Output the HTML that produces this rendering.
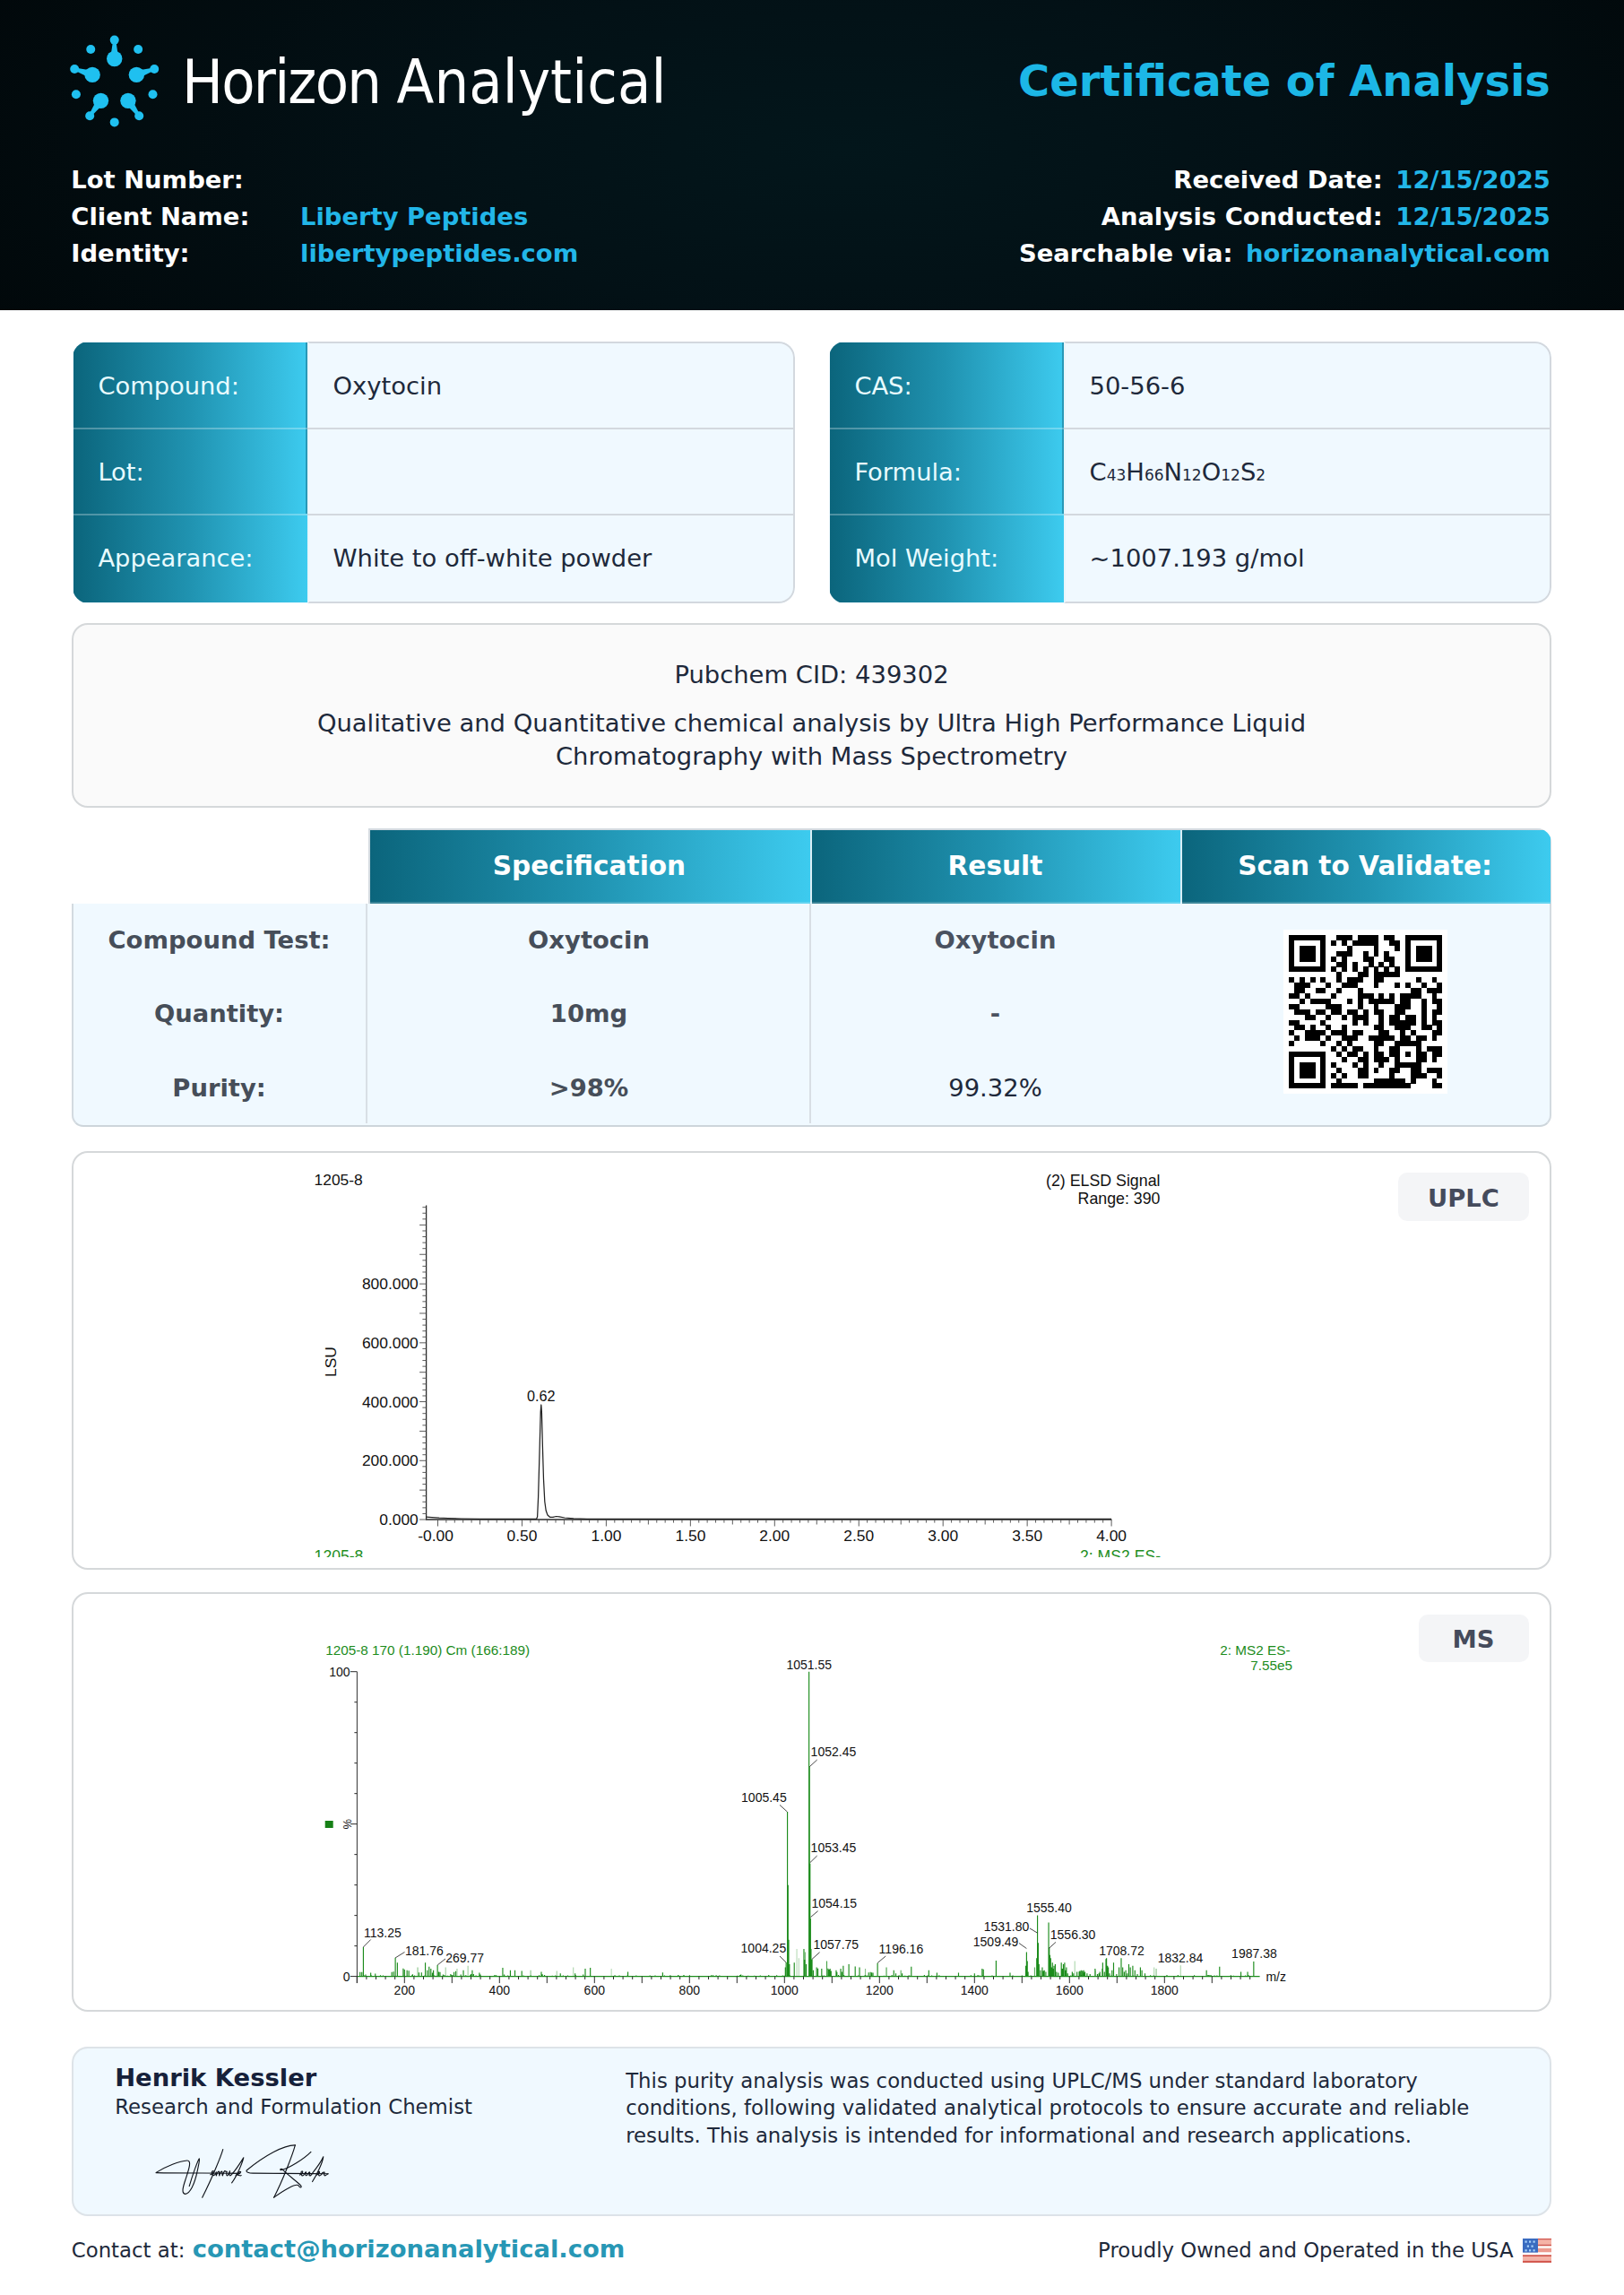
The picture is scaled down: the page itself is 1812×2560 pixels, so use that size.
<!DOCTYPE html>
<html lang="en"><head><meta charset="utf-8"><title>Certificate of Analysis - Horizon Analytical</title>
<style>
html,body{margin:0;padding:0}
body{width:1812px;height:2560px;position:relative;background:#fff;font-family:"DejaVu Sans","Liberation Sans",sans-serif;color:#1e293b;overflow:hidden}
div{box-sizing:border-box}
.abs{position:absolute}
.teal{background:linear-gradient(90deg,#0b657c 0%,#2093b1 50%,#3dcbef 100%)}
svg{position:absolute;overflow:visible}
svg text{font-family:"Liberation Sans","DejaVu Sans",sans-serif}
</style></head><body>
<div class="abs" style="left:0;top:0;width:1812px;height:346px;background:radial-gradient(ellipse 62% 130% at 52% 48%,#03161b 0%,#031116 42%,#010709 100%)"></div>
<svg style="left:0;top:0" width="260" height="200" viewBox="0 0 260 200"><path d="M123.10 65.50L126.20 44.60L129.20 44.60L132.30 65.50z" fill="#1fc0f0"/><circle cx="127.70" cy="65.50" r="8.7" fill="#1fc0f0"/><circle cx="127.70" cy="44.60" r="5" fill="#1fc0f0"/><circle cx="154.15" cy="54.99" r="5" fill="#1fc0f0"/><path d="M150.91 79.02L171.75 75.51L172.67 78.36L153.75 87.77z" fill="#1fc0f0"/><circle cx="152.33" cy="83.40" r="8.7" fill="#1fc0f0"/><circle cx="172.21" cy="76.94" r="5" fill="#1fc0f0"/><circle cx="170.50" cy="105.31" r="5" fill="#1fc0f0"/><path d="M146.65 109.65L156.42 128.38L153.99 130.14L139.20 115.06z" fill="#1fc0f0"/><circle cx="142.92" cy="112.35" r="8.7" fill="#1fc0f0"/><circle cx="155.21" cy="129.26" r="5" fill="#1fc0f0"/><circle cx="127.70" cy="136.40" r="5" fill="#1fc0f0"/><path d="M116.20 115.06L101.41 130.14L98.98 128.38L108.75 109.65z" fill="#1fc0f0"/><circle cx="112.48" cy="112.35" r="8.7" fill="#1fc0f0"/><circle cx="100.19" cy="129.26" r="5" fill="#1fc0f0"/><circle cx="84.90" cy="105.31" r="5" fill="#1fc0f0"/><path d="M101.65 87.77L82.73 78.36L83.65 75.51L104.49 79.02z" fill="#1fc0f0"/><circle cx="103.07" cy="83.40" r="8.7" fill="#1fc0f0"/><circle cx="83.19" cy="76.94" r="5" fill="#1fc0f0"/><circle cx="101.25" cy="54.99" r="5" fill="#1fc0f0"/></svg>
<div style="position:absolute;top:58.06px;font-size:67.9px;line-height:67.9px;font-weight:normal;color:#fff;white-space:nowrap;left:203.00px;font-family:&quot;DejaVu Sans Condensed&quot;,&quot;DejaVu Sans&quot;,sans-serif;font-stretch:condensed;letter-spacing:-1.75px;">Horizon</div>
<div style="position:absolute;top:58.06px;font-size:67.9px;line-height:67.9px;font-weight:normal;color:#fff;white-space:nowrap;left:442.60px;font-family:&quot;DejaVu Sans Condensed&quot;,&quot;DejaVu Sans&quot;,sans-serif;font-stretch:condensed;letter-spacing:0.1px;">Analytical</div>
<div style="position:absolute;top:66.58px;font-size:47.9px;line-height:47.9px;font-weight:bold;color:#1cb7e6;white-space:nowrap;right:82.20px;text-align:right;">Certificate of Analysis</div>
<div style="position:absolute;top:186.72px;font-size:27.4px;line-height:27.4px;font-weight:bold;color:#fff;white-space:nowrap;left:79.30px;">Lot Number:</div>
<div style="position:absolute;top:227.67px;font-size:27.4px;line-height:27.4px;font-weight:bold;color:#fff;white-space:nowrap;left:79.30px;">Client Name:</div>
<div style="position:absolute;top:227.67px;font-size:27.4px;line-height:27.4px;font-weight:bold;color:#22b6e8;white-space:nowrap;left:335.00px;">Liberty Peptides</div>
<div style="position:absolute;top:268.62px;font-size:27.4px;line-height:27.4px;font-weight:bold;color:#fff;white-space:nowrap;left:79.30px;">Identity:</div>
<div style="position:absolute;top:268.62px;font-size:27.4px;line-height:27.4px;font-weight:bold;color:#22b6e8;white-space:nowrap;left:335.00px;">libertypeptides.com</div>
<div style="position:absolute;top:186.72px;font-size:27.4px;line-height:27.4px;font-weight:bold;color:#22b6e8;white-space:nowrap;right:82.20px;text-align:right;"><span style="color:#fff">Received Date:</span><span style="display:inline-block;width:14.7px"></span>12/15/2025</div>
<div style="position:absolute;top:227.67px;font-size:27.4px;line-height:27.4px;font-weight:bold;color:#22b6e8;white-space:nowrap;right:82.20px;text-align:right;"><span style="color:#fff">Analysis Conducted:</span><span style="display:inline-block;width:14.7px"></span>12/15/2025</div>
<div style="position:absolute;top:268.62px;font-size:27.4px;line-height:27.4px;font-weight:bold;color:#22b6e8;white-space:nowrap;right:82.20px;text-align:right;"><span style="color:#fff">Searchable via:</span><span style="display:inline-block;width:14.7px"></span>horizonanalytical.com</div>
<div class="abs" style="left:81px;top:381px;width:806px;height:291.6px;border-radius:18px;overflow:hidden;background:#f0f9ff"><div class="abs teal" style="left:1px;top:1px;width:260.6px;height:289.6px"></div><div class="abs" style="left:261.6px;top:0;width:544.4px;height:291.6px;border:2px solid #d3d8de;border-left:2px solid #e9f6fb;border-radius:0 18px 18px 0"></div><div class="abs" style="left:259.8px;top:1px;width:1.8px;height:191px;background:rgba(8,70,95,.38)"></div><div class="abs" style="left:1px;top:96px;width:260.6px;height:2px;background:rgba(255,255,255,.28)"></div><div class="abs" style="left:262px;top:96px;width:542px;height:2px;background:#d3d8de"></div><div class="abs" style="left:1px;top:192px;width:260.6px;height:2px;background:rgba(255,255,255,.28)"></div><div class="abs" style="left:262px;top:192px;width:542px;height:2px;background:#d3d8de"></div></div><div style="position:absolute;top:417.10px;font-size:27.3px;line-height:27.3px;font-weight:normal;color:#e8fbff;white-space:nowrap;left:109.40px;">Compound:</div><div style="position:absolute;top:417.02px;font-size:27.4px;line-height:27.4px;font-weight:normal;color:#1e293b;white-space:nowrap;left:371.50px;">Oxytocin</div><div style="position:absolute;top:513.10px;font-size:27.3px;line-height:27.3px;font-weight:normal;color:#e8fbff;white-space:nowrap;left:109.40px;">Lot:</div><div style="position:absolute;top:609.10px;font-size:27.3px;line-height:27.3px;font-weight:normal;color:#e8fbff;white-space:nowrap;left:109.40px;">Appearance:</div><div style="position:absolute;top:609.02px;font-size:27.4px;line-height:27.4px;font-weight:normal;color:#1e293b;white-space:nowrap;left:371.50px;">White to off-white powder</div>
<div class="abs" style="left:925px;top:381px;width:806px;height:291.6px;border-radius:18px;overflow:hidden;background:#f0f9ff"><div class="abs teal" style="left:1px;top:1px;width:260.6px;height:289.6px"></div><div class="abs" style="left:261.6px;top:0;width:544.4px;height:291.6px;border:2px solid #d3d8de;border-left:2px solid #e9f6fb;border-radius:0 18px 18px 0"></div><div class="abs" style="left:259.8px;top:1px;width:1.8px;height:191px;background:rgba(8,70,95,.38)"></div><div class="abs" style="left:1px;top:96px;width:260.6px;height:2px;background:rgba(255,255,255,.28)"></div><div class="abs" style="left:262px;top:96px;width:542px;height:2px;background:#d3d8de"></div><div class="abs" style="left:1px;top:192px;width:260.6px;height:2px;background:rgba(255,255,255,.28)"></div><div class="abs" style="left:262px;top:192px;width:542px;height:2px;background:#d3d8de"></div></div><div style="position:absolute;top:417.10px;font-size:27.3px;line-height:27.3px;font-weight:normal;color:#e8fbff;white-space:nowrap;left:953.40px;">CAS:</div><div style="position:absolute;top:417.02px;font-size:27.4px;line-height:27.4px;font-weight:normal;color:#1e293b;white-space:nowrap;left:1215.50px;">50-56-6</div><div style="position:absolute;top:513.10px;font-size:27.3px;line-height:27.3px;font-weight:normal;color:#e8fbff;white-space:nowrap;left:953.40px;">Formula:</div><div style="position:absolute;top:513.02px;font-size:27.4px;line-height:27.4px;font-weight:normal;color:#1e293b;white-space:nowrap;left:1215.50px;">C<span style="font-size:17px">43</span>H<span style="font-size:17px">66</span>N<span style="font-size:17px">12</span>O<span style="font-size:17px">12</span>S<span style="font-size:17px">2</span></div><div style="position:absolute;top:609.10px;font-size:27.3px;line-height:27.3px;font-weight:normal;color:#e8fbff;white-space:nowrap;left:953.40px;">Mol Weight:</div><div style="position:absolute;top:609.02px;font-size:27.4px;line-height:27.4px;font-weight:normal;color:#1e293b;white-space:nowrap;left:1215.50px;">~1007.193 g/mol</div>
<div class="abs" style="left:80px;top:695.4px;width:1651px;height:205.6px;border:2.3px solid #d5d8da;border-radius:18px;background:#fafafa"></div>
<div style="position:absolute;top:738.82px;font-size:27.4px;line-height:27.4px;font-weight:normal;color:#1e293b;white-space:nowrap;left:305.50px;width:1200px;text-align:center;">Pubchem CID: 439302</div>
<div style="position:absolute;top:793.32px;font-size:27.4px;line-height:27.4px;font-weight:normal;color:#1e293b;white-space:nowrap;left:155.50px;width:1500px;text-align:center;">Qualitative and Quantitative chemical analysis by Ultra High Performance Liquid</div>
<div style="position:absolute;top:829.82px;font-size:27.4px;line-height:27.4px;font-weight:normal;color:#1e293b;white-space:nowrap;left:305.50px;width:1200px;text-align:center;">Chromatography with Mass Spectrometry</div>
<div class="abs" style="left:80px;top:1008px;width:1651px;height:248.6px;background:#f0f9ff;border-radius:0 0 13px 13px;border:2px solid #d3dae0;border-top:none;border-bottom:2.5px solid #cdd5db"></div>
<div class="abs" style="left:410.8px;top:923.6px;width:1320.2px;height:84.8px;border-radius:0 16px 0 0;overflow:hidden;background:#d9eef5"><div class="abs" style="left:0;top:0;width:1321px;height:2.4px;background:#d3dae0"></div><div class="abs" style="left:0;top:0;width:2px;height:85px;background:#d3dae0"></div><div class="abs" style="right:0;top:0;width:2px;height:85px;background:#d3dae0"></div><div class="abs teal" style="left:2px;top:2.4px;width:491px;height:82.4px"></div><div class="abs teal" style="left:495.6px;top:2.4px;width:410.2px;height:82.4px"></div><div class="abs teal" style="left:908.4px;top:2.4px;width:410.6px;height:82.4px"></div><div class="abs" style="left:2px;bottom:0;width:1317px;height:2px;background:rgba(255,255,255,.2)"></div></div>
<div class="abs" style="left:408px;top:1008px;width:2px;height:245px;background:#d8dfe5"></div>
<div class="abs" style="left:903px;top:1008px;width:2px;height:245px;background:#d8dfe5"></div>
<div style="position:absolute;top:951.66px;font-size:29.6px;line-height:29.6px;font-weight:bold;color:#fff;white-space:nowrap;left:417.50px;width:480px;text-align:center;">Specification</div>
<div style="position:absolute;top:951.66px;font-size:29.6px;line-height:29.6px;font-weight:bold;color:#fff;white-space:nowrap;left:870.50px;width:480px;text-align:center;">Result</div>
<div style="position:absolute;top:951.66px;font-size:29.6px;line-height:29.6px;font-weight:bold;color:#fff;white-space:nowrap;left:1283.00px;width:480px;text-align:center;">Scan to Validate:</div>
<div style="position:absolute;top:1035.32px;font-size:27.4px;line-height:27.4px;font-weight:bold;color:#464e59;white-space:nowrap;left:84.50px;width:320px;text-align:center;">Compound Test:</div>
<div style="position:absolute;top:1035.32px;font-size:27.4px;line-height:27.4px;font-weight:bold;color:#464e59;white-space:nowrap;left:417.00px;width:480px;text-align:center;">Oxytocin</div>
<div style="position:absolute;top:1035.32px;font-size:27.4px;line-height:27.4px;font-weight:bold;color:#4a5260;white-space:nowrap;left:910.50px;width:400px;text-align:center;">Oxytocin</div>
<div style="position:absolute;top:1117.42px;font-size:27.4px;line-height:27.4px;font-weight:bold;color:#464e59;white-space:nowrap;left:84.50px;width:320px;text-align:center;">Quantity:</div>
<div style="position:absolute;top:1117.42px;font-size:27.4px;line-height:27.4px;font-weight:bold;color:#464e59;white-space:nowrap;left:417.00px;width:480px;text-align:center;">10mg</div>
<div style="position:absolute;top:1117.42px;font-size:27.4px;line-height:27.4px;font-weight:bold;color:#4a5260;white-space:nowrap;left:910.50px;width:400px;text-align:center;">-</div>
<div style="position:absolute;top:1199.52px;font-size:27.4px;line-height:27.4px;font-weight:bold;color:#464e59;white-space:nowrap;left:84.50px;width:320px;text-align:center;">Purity:</div>
<div style="position:absolute;top:1199.52px;font-size:27.4px;line-height:27.4px;font-weight:bold;color:#464e59;white-space:nowrap;left:417.00px;width:480px;text-align:center;">&gt;98%</div>
<div style="position:absolute;top:1199.52px;font-size:27.4px;line-height:27.4px;font-weight:normal;color:#1e293b;white-space:nowrap;left:910.50px;width:400px;text-align:center;">99.32%</div>
<div class="abs" style="left:1432.4px;top:1037.4px;width:182.3px;height:182.3px;background:#fff"></div>
<svg style="left:1438.3px;top:1043.3px" width="172" height="172" viewBox="0 0 172 172" shape-rendering="crispEdges"><path d="M0.00 0.00h41.37v5.96h-41.37zM53.19 0.00h17.73v5.96h-17.73zM76.83 0.00h23.64v5.96h-23.64zM106.38 0.00h11.82v5.96h-11.82zM130.02 0.00h41.37v5.96h-41.37zM0.00 5.91h5.91v5.96h-5.91zM35.46 5.91h5.91v5.96h-5.91zM47.28 5.91h5.91v5.96h-5.91zM59.10 5.91h5.91v5.96h-5.91zM70.92 5.91h29.55v5.96h-29.55zM112.29 5.91h11.82v5.96h-11.82zM130.02 5.91h5.91v5.96h-5.91zM165.48 5.91h5.91v5.96h-5.91zM0.00 11.82h5.91v5.96h-5.91zM11.82 11.82h17.73v5.96h-17.73zM35.46 11.82h5.91v5.96h-5.91zM65.01 11.82h5.91v5.96h-5.91zM94.56 11.82h5.91v5.96h-5.91zM118.20 11.82h5.91v5.96h-5.91zM130.02 11.82h5.91v5.96h-5.91zM141.84 11.82h17.73v5.96h-17.73zM165.48 11.82h5.91v5.96h-5.91zM0.00 17.73h5.91v5.96h-5.91zM11.82 17.73h17.73v5.96h-17.73zM35.46 17.73h5.91v5.96h-5.91zM53.19 17.73h17.73v5.96h-17.73zM82.74 17.73h5.91v5.96h-5.91zM94.56 17.73h5.91v5.96h-5.91zM106.38 17.73h5.91v5.96h-5.91zM130.02 17.73h5.91v5.96h-5.91zM141.84 17.73h17.73v5.96h-17.73zM165.48 17.73h5.91v5.96h-5.91zM0.00 23.64h5.91v5.96h-5.91zM11.82 23.64h17.73v5.96h-17.73zM35.46 23.64h5.91v5.96h-5.91zM47.28 23.64h5.91v5.96h-5.91zM59.10 23.64h5.91v5.96h-5.91zM82.74 23.64h11.82v5.96h-11.82zM106.38 23.64h11.82v5.96h-11.82zM130.02 23.64h5.91v5.96h-5.91zM141.84 23.64h17.73v5.96h-17.73zM165.48 23.64h5.91v5.96h-5.91zM0.00 29.55h5.91v5.96h-5.91zM35.46 29.55h5.91v5.96h-5.91zM53.19 29.55h11.82v5.96h-11.82zM70.92 29.55h5.91v5.96h-5.91zM88.65 29.55h5.91v5.96h-5.91zM100.47 29.55h5.91v5.96h-5.91zM112.29 29.55h5.91v5.96h-5.91zM130.02 29.55h5.91v5.96h-5.91zM165.48 29.55h5.91v5.96h-5.91zM0.00 35.46h41.37v5.96h-41.37zM47.28 35.46h5.91v5.96h-5.91zM59.10 35.46h5.91v5.96h-5.91zM70.92 35.46h5.91v5.96h-5.91zM82.74 35.46h5.91v5.96h-5.91zM94.56 35.46h5.91v5.96h-5.91zM106.38 35.46h5.91v5.96h-5.91zM118.20 35.46h5.91v5.96h-5.91zM130.02 35.46h41.37v5.96h-41.37zM53.19 41.37h5.91v5.96h-5.91zM76.83 41.37h11.82v5.96h-11.82zM94.56 41.37h29.55v5.96h-29.55zM0.00 47.28h5.91v5.96h-5.91zM11.82 47.28h5.91v5.96h-5.91zM23.64 47.28h5.91v5.96h-5.91zM35.46 47.28h5.91v5.96h-5.91zM53.19 47.28h5.91v5.96h-5.91zM65.01 47.28h17.73v5.96h-17.73zM94.56 47.28h11.82v5.96h-11.82zM141.84 47.28h5.91v5.96h-5.91zM159.57 47.28h5.91v5.96h-5.91zM5.91 53.19h17.73v5.96h-17.73zM41.37 53.19h5.91v5.96h-5.91zM59.10 53.19h17.73v5.96h-17.73zM94.56 53.19h5.91v5.96h-5.91zM118.20 53.19h5.91v5.96h-5.91zM130.02 53.19h5.91v5.96h-5.91zM147.75 53.19h5.91v5.96h-5.91zM165.48 53.19h5.91v5.96h-5.91zM5.91 59.10h11.82v5.96h-11.82zM29.55 59.10h11.82v5.96h-11.82zM53.19 59.10h5.91v5.96h-5.91zM76.83 59.10h5.91v5.96h-5.91zM135.93 59.10h11.82v5.96h-11.82zM153.66 59.10h17.73v5.96h-17.73zM0.00 65.01h11.82v5.96h-11.82zM17.73 65.01h5.91v5.96h-5.91zM47.28 65.01h5.91v5.96h-5.91zM76.83 65.01h17.73v5.96h-17.73zM100.47 65.01h5.91v5.96h-5.91zM112.29 65.01h5.91v5.96h-5.91zM124.11 65.01h23.64v5.96h-23.64zM159.57 65.01h5.91v5.96h-5.91zM11.82 70.92h5.91v5.96h-5.91zM23.64 70.92h23.64v5.96h-23.64zM65.01 70.92h5.91v5.96h-5.91zM76.83 70.92h5.91v5.96h-5.91zM88.65 70.92h29.55v5.96h-29.55zM124.11 70.92h11.82v5.96h-11.82zM147.75 70.92h5.91v5.96h-5.91zM159.57 70.92h11.82v5.96h-11.82zM0.00 76.83h11.82v5.96h-11.82zM41.37 76.83h17.73v5.96h-17.73zM76.83 76.83h5.91v5.96h-5.91zM94.56 76.83h5.91v5.96h-5.91zM118.20 76.83h17.73v5.96h-17.73zM147.75 76.83h5.91v5.96h-5.91zM165.48 76.83h5.91v5.96h-5.91zM5.91 82.74h17.73v5.96h-17.73zM29.55 82.74h11.82v5.96h-11.82zM47.28 82.74h11.82v5.96h-11.82zM65.01 82.74h11.82v5.96h-11.82zM82.74 82.74h5.91v5.96h-5.91zM94.56 82.74h11.82v5.96h-11.82zM118.20 82.74h11.82v5.96h-11.82zM147.75 82.74h5.91v5.96h-5.91zM159.57 82.74h11.82v5.96h-11.82zM17.73 88.65h11.82v5.96h-11.82zM41.37 88.65h5.91v5.96h-5.91zM59.10 88.65h5.91v5.96h-5.91zM70.92 88.65h17.73v5.96h-17.73zM100.47 88.65h5.91v5.96h-5.91zM112.29 88.65h11.82v5.96h-11.82zM130.02 88.65h11.82v5.96h-11.82zM147.75 88.65h5.91v5.96h-5.91zM159.57 88.65h5.91v5.96h-5.91zM0.00 94.56h11.82v5.96h-11.82zM35.46 94.56h5.91v5.96h-5.91zM70.92 94.56h5.91v5.96h-5.91zM82.74 94.56h5.91v5.96h-5.91zM100.47 94.56h5.91v5.96h-5.91zM112.29 94.56h29.55v5.96h-29.55zM147.75 94.56h5.91v5.96h-5.91zM159.57 94.56h11.82v5.96h-11.82zM5.91 100.47h11.82v5.96h-11.82zM23.64 100.47h5.91v5.96h-5.91zM41.37 100.47h5.91v5.96h-5.91zM59.10 100.47h5.91v5.96h-5.91zM94.56 100.47h11.82v5.96h-11.82zM118.20 100.47h17.73v5.96h-17.73zM147.75 100.47h11.82v5.96h-11.82zM165.48 100.47h5.91v5.96h-5.91zM0.00 106.38h5.91v5.96h-5.91zM17.73 106.38h23.64v5.96h-23.64zM47.28 106.38h17.73v5.96h-17.73zM70.92 106.38h11.82v5.96h-11.82zM100.47 106.38h11.82v5.96h-11.82zM124.11 106.38h5.91v5.96h-5.91zM135.93 106.38h5.91v5.96h-5.91zM159.57 106.38h11.82v5.96h-11.82zM5.91 112.29h5.91v5.96h-5.91zM17.73 112.29h17.73v5.96h-17.73zM41.37 112.29h5.91v5.96h-5.91zM59.10 112.29h17.73v5.96h-17.73zM88.65 112.29h29.55v5.96h-29.55zM124.11 112.29h11.82v5.96h-11.82zM141.84 112.29h11.82v5.96h-11.82zM159.57 112.29h5.91v5.96h-5.91zM0.00 118.20h5.91v5.96h-5.91zM35.46 118.20h5.91v5.96h-5.91zM53.19 118.20h5.91v5.96h-5.91zM65.01 118.20h5.91v5.96h-5.91zM94.56 118.20h11.82v5.96h-11.82zM118.20 118.20h29.55v5.96h-29.55zM47.28 124.11h5.91v5.96h-5.91zM59.10 124.11h5.91v5.96h-5.91zM70.92 124.11h11.82v5.96h-11.82zM94.56 124.11h5.91v5.96h-5.91zM112.29 124.11h11.82v5.96h-11.82zM141.84 124.11h5.91v5.96h-5.91zM153.66 124.11h17.73v5.96h-17.73zM0.00 130.02h41.37v5.96h-41.37zM53.19 130.02h5.91v5.96h-5.91zM65.01 130.02h11.82v5.96h-11.82zM82.74 130.02h5.91v5.96h-5.91zM94.56 130.02h11.82v5.96h-11.82zM112.29 130.02h11.82v5.96h-11.82zM130.02 130.02h5.91v5.96h-5.91zM141.84 130.02h11.82v5.96h-11.82zM159.57 130.02h11.82v5.96h-11.82zM0.00 135.93h5.91v5.96h-5.91zM35.46 135.93h5.91v5.96h-5.91zM59.10 135.93h5.91v5.96h-5.91zM76.83 135.93h11.82v5.96h-11.82zM94.56 135.93h17.73v5.96h-17.73zM118.20 135.93h5.91v5.96h-5.91zM141.84 135.93h11.82v5.96h-11.82zM159.57 135.93h5.91v5.96h-5.91zM0.00 141.84h5.91v5.96h-5.91zM11.82 141.84h17.73v5.96h-17.73zM35.46 141.84h5.91v5.96h-5.91zM47.28 141.84h5.91v5.96h-5.91zM70.92 141.84h5.91v5.96h-5.91zM82.74 141.84h5.91v5.96h-5.91zM100.47 141.84h5.91v5.96h-5.91zM118.20 141.84h29.55v5.96h-29.55zM0.00 147.75h5.91v5.96h-5.91zM11.82 147.75h17.73v5.96h-17.73zM35.46 147.75h5.91v5.96h-5.91zM53.19 147.75h5.91v5.96h-5.91zM76.83 147.75h11.82v5.96h-11.82zM94.56 147.75h5.91v5.96h-5.91zM112.29 147.75h11.82v5.96h-11.82zM135.93 147.75h11.82v5.96h-11.82zM153.66 147.75h17.73v5.96h-17.73zM0.00 153.66h5.91v5.96h-5.91zM11.82 153.66h17.73v5.96h-17.73zM35.46 153.66h5.91v5.96h-5.91zM47.28 153.66h5.91v5.96h-5.91zM59.10 153.66h5.91v5.96h-5.91zM76.83 153.66h11.82v5.96h-11.82zM112.29 153.66h5.91v5.96h-5.91zM135.93 153.66h17.73v5.96h-17.73zM165.48 153.66h5.91v5.96h-5.91zM0.00 159.57h5.91v5.96h-5.91zM35.46 159.57h5.91v5.96h-5.91zM53.19 159.57h5.91v5.96h-5.91zM94.56 159.57h35.46v5.96h-35.46zM135.93 159.57h5.91v5.96h-5.91zM159.57 159.57h5.91v5.96h-5.91zM0.00 165.48h41.37v5.96h-41.37zM47.28 165.48h29.55v5.96h-29.55zM82.74 165.48h53.19v5.96h-53.19zM159.57 165.48h11.82v5.96h-11.82z" fill="#000"/></svg>
<div class="abs" style="left:80px;top:1284px;width:1651px;height:467px;border:2.3px solid #d5d8da;border-radius:18px;background:#fff"></div>
<div class="abs" style="left:1559.7px;top:1308.3px;width:146.6px;height:53.6px;border-radius:10px;background:#f4f5f7"></div>
<div class="abs" style="left:1559.7px;top:1322.7px;width:146.6px;height:27.4px;line-height:27.4px;text-align:center;font-size:27.4px;font-weight:bold;color:#454b5c">UPLC</div>
<svg style="left:0;top:0" width="1812" height="1760" viewBox="0 0 1812 1760"><path d="M475.6 1344.5V1695.0H1240.3" fill="none" stroke="#2a2a2a" stroke-width="1.3"/><path d="M468.1 1695.00H475.6M471.4 1688.43H475.6M471.4 1681.86H475.6M471.4 1675.28H475.6M471.4 1668.71H475.6M468.1 1662.14H475.6M471.4 1655.57H475.6M471.4 1649.00H475.6M471.4 1642.42H475.6M471.4 1635.85H475.6M468.1 1629.28H475.6M471.4 1622.71H475.6M471.4 1616.14H475.6M471.4 1609.56H475.6M471.4 1602.99H475.6M468.1 1596.42H475.6M471.4 1589.85H475.6M471.4 1583.28H475.6M471.4 1576.70H475.6M471.4 1570.13H475.6M468.1 1563.56H475.6M471.4 1556.99H475.6M471.4 1550.42H475.6M471.4 1543.84H475.6M471.4 1537.27H475.6M468.1 1530.70H475.6M471.4 1524.13H475.6M471.4 1517.56H475.6M471.4 1510.98H475.6M471.4 1504.41H475.6M468.1 1497.84H475.6M471.4 1491.27H475.6M471.4 1484.70H475.6M471.4 1478.12H475.6M471.4 1471.55H475.6M468.1 1464.98H475.6M471.4 1458.41H475.6M471.4 1451.84H475.6M471.4 1445.26H475.6M471.4 1438.69H475.6M468.1 1432.12H475.6M471.4 1425.55H475.6M471.4 1418.98H475.6M471.4 1412.40H475.6M471.4 1405.83H475.6M468.1 1399.26H475.6M471.4 1392.69H475.6M471.4 1386.12H475.6M471.4 1379.54H475.6M471.4 1372.97H475.6M468.1 1366.40H475.6M471.4 1359.83H475.6M471.4 1353.26H475.6M471.4 1346.68H475.6" stroke="#4a4a4a" stroke-width="0.9" fill="none"/><path d="M488.50 1695.0v7.5M497.89 1695.0v3.6M507.29 1695.0v3.6M516.69 1695.0v3.6M526.08 1695.0v3.6M535.48 1695.0v5.5M544.87 1695.0v3.6M554.26 1695.0v3.6M563.66 1695.0v3.6M573.06 1695.0v3.6M582.45 1695.0v7.5M591.85 1695.0v3.6M601.24 1695.0v3.6M610.63 1695.0v3.6M620.03 1695.0v3.6M629.42 1695.0v5.5M638.82 1695.0v3.6M648.22 1695.0v3.6M657.61 1695.0v3.6M667.00 1695.0v3.6M676.40 1695.0v7.5M685.80 1695.0v3.6M695.19 1695.0v3.6M704.59 1695.0v3.6M713.98 1695.0v3.6M723.38 1695.0v5.5M732.77 1695.0v3.6M742.16 1695.0v3.6M751.56 1695.0v3.6M760.96 1695.0v3.6M770.35 1695.0v7.5M779.75 1695.0v3.6M789.14 1695.0v3.6M798.54 1695.0v3.6M807.93 1695.0v3.6M817.33 1695.0v5.5M826.72 1695.0v3.6M836.12 1695.0v3.6M845.51 1695.0v3.6M854.90 1695.0v3.6M864.30 1695.0v7.5M873.70 1695.0v3.6M883.09 1695.0v3.6M892.49 1695.0v3.6M901.88 1695.0v3.6M911.28 1695.0v5.5M920.67 1695.0v3.6M930.07 1695.0v3.6M939.46 1695.0v3.6M948.86 1695.0v3.6M958.25 1695.0v7.5M967.64 1695.0v3.6M977.04 1695.0v3.6M986.44 1695.0v3.6M995.83 1695.0v3.6M1005.23 1695.0v5.5M1014.62 1695.0v3.6M1024.01 1695.0v3.6M1033.41 1695.0v3.6M1042.81 1695.0v3.6M1052.20 1695.0v7.5M1061.60 1695.0v3.6M1070.99 1695.0v3.6M1080.39 1695.0v3.6M1089.78 1695.0v3.6M1099.18 1695.0v5.5M1108.57 1695.0v3.6M1117.97 1695.0v3.6M1127.36 1695.0v3.6M1136.76 1695.0v3.6M1146.15 1695.0v7.5M1155.55 1695.0v3.6M1164.94 1695.0v3.6M1174.34 1695.0v3.6M1183.73 1695.0v3.6M1193.12 1695.0v5.5M1202.52 1695.0v3.6M1211.91 1695.0v3.6M1221.31 1695.0v3.6M1230.70 1695.0v3.6M1240.10 1695.0v7.5" stroke="#4a4a4a" stroke-width="0.9" fill="none"/><polyline points="475.6,1692.2 482,1692.6 490,1693.1 500,1693.5 515,1694.0 535,1694.3 560,1694.4 598.5,1694.4 599.6,1692 600.6,1670 602,1620 603.2,1575 603.8,1567 604.4,1575 605.3,1610 606.5,1650 607.8,1675 609.2,1685 611,1690 613.5,1692.3 617,1692.4 620.5,1691.5 624,1691.9 630,1693 640,1693.8 655,1694.3 700,1694.4 1240,1694.4" fill="none" stroke="#222" stroke-width="1.25" stroke-linejoin="round"/><g font-size="17.4" fill="#111"><text x="350.6" y="1322.2">1205-8</text><text x="1294.5" y="1322.5" text-anchor="end" font-size="17.8">(2) ELSD Signal</text><text x="1294.5" y="1342.5" text-anchor="end" font-size="17.8">Range: 390</text><text x="466.8" y="1438.2" text-anchor="end">800.000</text><text x="466.8" y="1503.9" text-anchor="end">600.000</text><text x="466.8" y="1569.7" text-anchor="end">400.000</text><text x="466.8" y="1635.4" text-anchor="end">200.000</text><text x="466.8" y="1701.1" text-anchor="end">0.000</text><text x="486.0" y="1718.6" text-anchor="middle">-0.00</text><text x="582.5" y="1718.6" text-anchor="middle">0.50</text><text x="676.4" y="1718.6" text-anchor="middle">1.00</text><text x="770.4" y="1718.6" text-anchor="middle">1.50</text><text x="864.3" y="1718.6" text-anchor="middle">2.00</text><text x="958.2" y="1718.6" text-anchor="middle">2.50</text><text x="1052.2" y="1718.6" text-anchor="middle">3.00</text><text x="1146.2" y="1718.6" text-anchor="middle">3.50</text><text x="1240.1" y="1718.6" text-anchor="middle">4.00</text><text x="603.8" y="1563.2" text-anchor="middle" font-size="16.2">0.62</text><text transform="translate(374.5 1519) rotate(-90)" text-anchor="middle">LSU</text></g></svg>
<div class="abs" style="left:300px;top:1724px;width:1100px;height:13px;overflow:hidden"><svg style="left:0;top:0" width="1100" height="40" viewBox="300 1724 1100 40"><g font-size="17.6" fill="#1f8f1f"><text x="350.6" y="1741.6">1205-8</text><text x="1295" y="1741.6" text-anchor="end">2: MS2 ES-</text></g></svg></div>
<div class="abs" style="left:80px;top:1776.2px;width:1651px;height:467.4px;border:2.3px solid #d5d8da;border-radius:18px;background:#fff"></div>
<div class="abs" style="left:1582.5px;top:1800.8px;width:123.1px;height:53.6px;border-radius:10px;background:#f4f5f7"></div>
<div class="abs" style="left:1582.5px;top:1814.9px;width:123.1px;height:27.4px;line-height:27.4px;text-align:center;font-size:27.4px;font-weight:bold;color:#454b5c">MS</div>
<svg style="left:0;top:0" width="1812" height="2250" viewBox="0 0 1812 2250"><path d="M398.4 2204.6H1405.6" stroke="#1c8c1c" stroke-width="1.3" fill="none"/><path d="M405.43 2204.6V2171.97M401.75 2204.6V2199.84M403.73 2204.6V2199.84M407.98 2204.6V2202.56M413.65 2204.6V2200.52M418.74 2204.6V2201.54M437.16 2204.6V2199.84M439.14 2204.6V2199.16M441.12 2204.6V2183.87M443.39 2204.6V2189.30M449.90 2204.6V2195.76M451.32 2204.6V2197.12M454.15 2204.6V2197.80M456.13 2204.6V2198.14M460.38 2204.6V2202.22M467.46 2204.6V2200.18M470.30 2204.6V2200.18M474.55 2204.6V2189.30M476.81 2204.6V2197.80M478.79 2204.6V2193.72M480.78 2204.6V2196.10M482.48 2204.6V2200.52M483.61 2204.6V2197.80M488.14 2204.6V2192.02M489.56 2204.6V2199.50M490.97 2204.6V2199.84M494.37 2204.6V2202.56M502.87 2204.6V2201.88M506.55 2204.6V2199.84M508.54 2204.6V2198.82M514.20 2204.6V2202.56M517.03 2204.6V2197.80M525.53 2204.6V2201.88M526.95 2204.6V2197.80M528.36 2204.6V2201.88M534.88 2204.6V2200.52M536.01 2204.6V2202.56M551.87 2204.6V2202.90M560.94 2204.6V2195.08M562.64 2204.6V2202.56M569.44 2204.6V2197.80M574.53 2204.6V2197.80M582.18 2204.6V2198.48M603.99 2204.6V2199.50M605.13 2204.6V2202.22M625.24 2204.6V2201.20M641.67 2204.6V2201.20M650.73 2204.6V2202.56M653.00 2204.6V2196.10M658.66 2204.6V2195.08M700.58 2204.6V2199.50M739.39 2204.6V2200.18M747.89 2204.6V2203.24M769.41 2204.6V2203.24M826.74 2204.6V2202.56M876.31 2204.6V2194.40M877.16 2204.6V2188.96M878.57 2204.6V2021.05M879.28 2204.6V2102.63M879.99 2204.6V2163.81M880.84 2204.6V2191.00M886.22 2204.6V2189.30M896.98 2204.6V2174.01M897.83 2204.6V2185.91M899.53 2204.6V2191.00M902.65 2204.6V1864.70M903.22 2204.6V1970.07M903.78 2204.6V2078.84M904.35 2204.6V2140.02M904.92 2204.6V2174.01M906.05 2204.6V2185.57M907.46 2204.6V2197.80M911.15 2204.6V2194.40M912.56 2204.6V2195.76M916.81 2204.6V2196.10M923.89 2204.6V2195.76M925.03 2204.6V2197.12M926.16 2204.6V2196.10M927.29 2204.6V2198.48M932.96 2204.6V2197.80M933.81 2204.6V2199.84M938.06 2204.6V2196.10M939.47 2204.6V2199.50M940.89 2204.6V2192.70M947.12 2204.6V2191.00M954.20 2204.6V2193.38M959.02 2204.6V2194.40M969.21 2204.6V2200.18M971.20 2204.6V2199.84M972.61 2204.6V2200.18M974.03 2204.6V2200.52M979.13 2204.6V2189.64M997.26 2204.6V2197.80M999.52 2204.6V2201.20M1006.60 2204.6V2201.20M1016.80 2204.6V2193.72M1036.34 2204.6V2197.80M1045.41 2204.6V2200.52M1069.49 2204.6V2200.52M1087.33 2204.6V2201.20M1095.83 2204.6V2196.10M1097.24 2204.6V2196.78M1111.41 2204.6V2186.93M1126.99 2204.6V2200.52M1144.55 2204.6V2192.70M1145.40 2204.6V2177.41M1146.25 2204.6V2187.61M1147.10 2204.6V2199.50M1156.73 2204.6V2184.21M1157.58 2204.6V2136.62M1158.43 2204.6V2167.21M1159.28 2204.6V2191.00M1160.98 2204.6V2197.80M1162.96 2204.6V2194.40M1164.09 2204.6V2198.48M1165.23 2204.6V2197.80M1166.92 2204.6V2199.50M1170.04 2204.6V2144.44M1170.75 2204.6V2172.31M1171.46 2204.6V2180.81M1172.31 2204.6V2184.21M1173.16 2204.6V2194.40M1174.29 2204.6V2189.30M1175.14 2204.6V2196.10M1175.99 2204.6V2192.70M1177.41 2204.6V2191.00M1178.82 2204.6V2199.50M1180.80 2204.6V2200.52M1184.20 2204.6V2189.30M1185.34 2204.6V2196.10M1186.47 2204.6V2191.00M1187.89 2204.6V2189.30M1189.02 2204.6V2197.80M1189.87 2204.6V2194.40M1191.28 2204.6V2201.20M1196.38 2204.6V2199.50M1197.80 2204.6V2201.20M1204.88 2204.6V2198.48M1206.30 2204.6V2197.80M1207.71 2204.6V2198.14M1209.13 2204.6V2197.80M1210.55 2204.6V2199.50M1216.21 2204.6V2201.88M1221.88 2204.6V2196.10M1226.13 2204.6V2201.20M1230.37 2204.6V2189.30M1234.62 2204.6V2184.21M1235.76 2204.6V2192.70M1236.61 2204.6V2194.40M1201.70 2204.6V2199.50M1204.08 2204.6V2199.16M1206.12 2204.6V2199.16M1208.16 2204.6V2199.50M1210.20 2204.6V2200.52M1212.92 2204.6V2201.20M1222.09 2204.6V2197.80M1224.47 2204.6V2201.88M1227.19 2204.6V2199.50M1229.91 2204.6V2196.10M1232.29 2204.6V2199.50M1233.99 2204.6V2185.23M1235.69 2204.6V2194.40M1238.07 2204.6V2201.20M1240.79 2204.6V2197.80M1242.49 2204.6V2189.30M1245.89 2204.6V2201.88M1248.61 2204.6V2194.40M1250.99 2204.6V2184.21M1252.69 2204.6V2194.40M1254.38 2204.6V2199.50M1256.08 2204.6V2197.80M1257.78 2204.6V2201.20M1259.48 2204.6V2191.00M1261.18 2204.6V2194.40M1263.90 2204.6V2192.70M1266.28 2204.6V2197.80M1269.00 2204.6V2201.88M1272.40 2204.6V2194.40M1274.10 2204.6V2197.80M1277.50 2204.6V2201.20M1301.97 2204.6V2202.90M1332.56 2204.6V2203.24M1346.16 2204.6V2197.80M1360.77 2204.6V2193.72M1373.35 2204.6V2203.24M1384.57 2204.6V2199.50M1392.05 2204.6V2199.50M1398.84 2204.6V2187.94M725.19 2204.6V2203.58M796.03 2204.6V2203.75M474.29 2204.6V2202.90M495.94 2204.6V2202.90M459.88 2204.6V2202.90M616.27 2204.6V2203.75M834.78 2204.6V2203.75M642.18 2204.6V2202.90M825.67 2204.6V2202.90M525.55 2204.6V2203.58M1031.36 2204.6V2202.90M1347.81 2204.6V2202.90M986.37 2204.6V2203.75M1376.30 2204.6V2203.75M957.55 2204.6V2203.58M691.03 2204.6V2203.58M941.60 2204.6V2202.90M709.86 2204.6V2203.58M504.85 2204.6V2202.90M1039.64 2204.6V2203.41M499.24 2204.6V2203.75M965.24 2204.6V2202.90M607.55 2204.6V2202.90M828.74 2204.6V2203.41M866.67 2204.6V2203.24M762.86 2204.6V2203.58M1194.79 2204.6V2203.58M483.69 2204.6V2203.41M926.15 2204.6V2203.41M1129.99 2204.6V2203.41M1009.74 2204.6V2203.75M519.83 2204.6V2203.24M566.63 2204.6V2203.41M553.68 2204.6V2203.24M822.85 2204.6V2203.75M1165.04 2204.6V2202.90M1189.52 2204.6V2203.41M741.44 2204.6V2203.41M995.18 2204.6V2202.90M1197.30 2204.6V2203.75M1240.29 2204.6V2203.41M875.15 2204.6V2203.75M462.55 2204.6V2203.41M1047.83 2204.6V2203.24M686.03 2204.6V2203.24M1287.27 2204.6V2203.41M424.52 2204.6V2203.24M756.75 2204.6V2202.90M518.86 2204.6V2203.75M619.77 2204.6V2203.41M531.08 2204.6V2203.58M799.10 2204.6V2203.24M482.42 2204.6V2203.24M802.84 2204.6V2203.41M1283.62 2204.6V2203.24M1264.26 2204.6V2203.41M1106.98 2204.6V2203.41M1083.36 2204.6V2203.24M1357.82 2204.6V2203.58M484.82 2204.6V2203.58M633.49 2204.6V2203.58M414.04 2204.6V2202.90M583.98 2204.6V2203.41M406.09 2204.6V2203.24M935.52 2204.6V2202.90M967.21 2204.6V2203.58M1091.11 2204.6V2202.90M1350.32 2204.6V2203.75M857.73 2204.6V2202.90M793.59 2204.6V2203.24M795.33 2204.6V2203.24M1035.02 2204.6V2203.75M592.23 2204.6V2203.58M841.75 2204.6V2203.75M741.37 2204.6V2203.75M504.17 2204.6V2202.90M552.96 2204.6V2203.75M1349.05 2204.6V2202.90M427.45 2204.6V2203.58M1014.84 2204.6V2203.58M1035.14 2204.6V2203.41M1003.07 2204.6V2203.24M524.60 2204.6V2203.24M1393.12 2204.6V2203.24M881.43 2204.6V2203.41M487.71 2204.6V2203.75M1150.17 2204.6V2203.41M879.66 2204.6V2203.58M917.30 2204.6V2203.58M1351.08 2204.6V2202.90M763.03 2204.6V2202.90M1314.32 2204.6V2202.90M699.49 2204.6V2203.75M1096.80 2204.6V2203.41M919.36 2204.6V2203.58M756.98 2204.6V2203.58M933.53 2204.6V2202.90M731.01 2204.6V2203.58M1014.00 2204.6V2203.58M1206.47 2204.6V2203.24M1140.39 2204.6V2203.58M601.52 2204.6V2203.24M756.85 2204.6V2203.75M1389.62 2204.6V2203.41M873.30 2204.6V2203.58M1093.14 2204.6V2203.41M848.33 2204.6V2203.41M1355.09 2204.6V2203.41M482.38 2204.6V2203.75M628.39 2204.6V2203.58" stroke="#1c8c1c" stroke-width="1.15" fill="none"/><path d="M466.05 2204.6V2194.40M592.10 2204.6V2197.80M965.53 2204.6V2196.10M1290.07 2204.6V2196.10" stroke="#1c8c1c" stroke-width="1.15" fill="none" opacity="0.5"/><path d="M497.21 2204.6V2194.40M509.95 2204.6V2196.10M522.13 2204.6V2192.70M621.27 2204.6V2198.48" stroke="#1c8c1c" stroke-width="1.15" fill="none" opacity="0.4"/><path d="M639.68 2204.6V2194.40M1199.22 2204.6V2187.61M1287.70 2204.6V2194.40M1317.27 2204.6V2192.36" stroke="#1c8c1c" stroke-width="1.15" fill="none" opacity="0.35"/><path d="M682.17 2204.6V2196.10M889.05 2204.6V2174.01M891.32 2204.6V2184.21" stroke="#1c8c1c" stroke-width="1.15" fill="none" opacity="0.3"/><path d="M898.40 2204.6V2177.41" stroke="#1c8c1c" stroke-width="1.15" fill="none" opacity="0.6"/><path d="M922.48 2204.6V2187.61M989.04 2204.6V2194.40" stroke="#1c8c1c" stroke-width="1.15" fill="none" opacity="0.8"/><path d="M1005.19 2204.6V2197.80M1154.46 2204.6V2194.40" stroke="#1c8c1c" stroke-width="1.15" fill="none" opacity="0.7"/><path d="M398.4 1864.7V2212.1" fill="none" stroke="#3a3a3a" stroke-width="1.05"/><path d="M390.9 2204.60H398.4M395.4 2170.61H398.4M395.4 2136.62H398.4M395.4 2102.63H398.4M395.4 2068.64H398.4M390.9 2034.65H398.4M395.4 2000.66H398.4M395.4 1966.67H398.4M395.4 1932.68H398.4M395.4 1898.69H398.4M390.9 1864.70H398.4M398.30 2204.6v7.5M408.90 2204.6v3.4M419.50 2204.6v3.4M430.10 2204.6v3.4M440.70 2204.6v3.4M451.30 2204.6v7.5M461.90 2204.6v3.4M472.50 2204.6v3.4M483.10 2204.6v3.4M493.70 2204.6v3.4M504.30 2204.6v7.5M514.90 2204.6v3.4M525.50 2204.6v3.4M536.10 2204.6v3.4M546.70 2204.6v3.4M557.30 2204.6v7.5M567.90 2204.6v3.4M578.50 2204.6v3.4M589.10 2204.6v3.4M599.70 2204.6v3.4M610.30 2204.6v7.5M620.90 2204.6v3.4M631.50 2204.6v3.4M642.10 2204.6v3.4M652.70 2204.6v3.4M663.30 2204.6v7.5M673.90 2204.6v3.4M684.50 2204.6v3.4M695.10 2204.6v3.4M705.70 2204.6v3.4M716.30 2204.6v7.5M726.90 2204.6v3.4M737.50 2204.6v3.4M748.10 2204.6v3.4M758.70 2204.6v3.4M769.30 2204.6v7.5M779.90 2204.6v3.4M790.50 2204.6v3.4M801.10 2204.6v3.4M811.70 2204.6v3.4M822.30 2204.6v7.5M832.90 2204.6v3.4M843.50 2204.6v3.4M854.10 2204.6v3.4M864.70 2204.6v3.4M875.30 2204.6v7.5M885.90 2204.6v3.4M896.50 2204.6v3.4M907.10 2204.6v3.4M917.70 2204.6v3.4M928.30 2204.6v7.5M938.90 2204.6v3.4M949.50 2204.6v3.4M960.10 2204.6v3.4M970.70 2204.6v3.4M981.30 2204.6v7.5M991.90 2204.6v3.4M1002.50 2204.6v3.4M1013.10 2204.6v3.4M1023.70 2204.6v3.4M1034.30 2204.6v7.5M1044.90 2204.6v3.4M1055.50 2204.6v3.4M1066.10 2204.6v3.4M1076.70 2204.6v3.4M1087.30 2204.6v7.5M1097.90 2204.6v3.4M1108.50 2204.6v3.4M1119.10 2204.6v3.4M1129.70 2204.6v3.4M1140.30 2204.6v7.5M1150.90 2204.6v3.4M1161.50 2204.6v3.4M1172.10 2204.6v3.4M1182.70 2204.6v3.4M1193.30 2204.6v7.5M1203.90 2204.6v3.4M1214.50 2204.6v3.4M1225.10 2204.6v3.4M1235.70 2204.6v3.4M1246.30 2204.6v7.5M1256.90 2204.6v3.4M1267.50 2204.6v3.4M1278.10 2204.6v3.4M1288.70 2204.6v3.4M1299.30 2204.6v7.5M1309.90 2204.6v3.4M1320.50 2204.6v3.4M1331.10 2204.6v3.4M1341.70 2204.6v3.4M1352.30 2204.6v7.5M1362.90 2204.6v3.4M1373.50 2204.6v3.4M1384.10 2204.6v3.4M1394.70 2204.6v3.4" stroke="#2a2a2a" stroke-width="1" fill="none"/><g font-size="15.3" fill="#1c8c1c"><text x="363.2" y="1846">1205-8 170 (1.190) Cm (166:189)</text><text x="1439.5" y="1845.7" text-anchor="end">2: MS2 ES-</text><text x="1442" y="1863.4" text-anchor="end">7.55e5</text></g><g font-size="14" fill="#111"><text x="390.6" y="1870.2" text-anchor="end">100</text><text x="390.6" y="2209.8" text-anchor="end">0</text><text x="451.3" y="2225" text-anchor="middle">200</text><text x="557.3" y="2225" text-anchor="middle">400</text><text x="663.3" y="2225" text-anchor="middle">600</text><text x="769.3" y="2225" text-anchor="middle">800</text><text x="875.3" y="2225" text-anchor="middle">1000</text><text x="981.3" y="2225" text-anchor="middle">1200</text><text x="1087.3" y="2225" text-anchor="middle">1400</text><text x="1193.3" y="2225" text-anchor="middle">1600</text><text x="1299.3" y="2225" text-anchor="middle">1800</text><text x="1412.4" y="2210.4">m/z</text><text transform="translate(391.5 2034.6) rotate(-90)" text-anchor="middle" font-size="13">%</text><text x="902.7" y="1862.4" text-anchor="middle">1051.55</text><text x="904.6" y="1959.3" text-anchor="start">1052.45</text><text x="877.7" y="2009.7" text-anchor="end">1005.45</text><text x="904.6" y="2066.4" text-anchor="start">1053.45</text><text x="905.5" y="2128.1" text-anchor="start">1054.15</text><text x="907.5" y="2174" text-anchor="start">1057.75</text><text x="877.2" y="2178.3" text-anchor="end">1004.25</text><text x="980.6" y="2178.8" text-anchor="start">1196.16</text><text x="1170.5" y="2132.9" text-anchor="middle">1555.40</text><text x="1148.3" y="2154.2" text-anchor="end">1531.80</text><text x="1136.4" y="2170.6" text-anchor="end">1509.49</text><text x="1171.8" y="2162.7" text-anchor="start">1556.30</text><text x="1251.5" y="2181.2" text-anchor="middle">1708.72</text><text x="1317" y="2189" text-anchor="middle">1832.84</text><text x="1399.4" y="2183.9" text-anchor="middle">1987.38</text><text x="406" y="2160.7" text-anchor="start">113.25</text><text x="451.9" y="2181.1" text-anchor="start">181.76</text><text x="497.2" y="2188.7" text-anchor="start">269.77</text></g><path d="M911.7 1963L903.4 1970.6M870 2013.4L878.4 2021M911.7 2070L903.8 2077.7M912.6 2131.7L904.4 2138.6M914.6 2177.7L906 2185.4M870 2182L877.2 2189M988.2 2182L979.1 2189.6M1149 2151L1157.6 2156.2M1137 2167.5L1145.4 2173.5M1178 2166.4L1170.2 2173.5M413.7 2163.5L405.3 2172M451.5 2177.5L441.1 2183.9M497 2185L488.2 2191.9" stroke="#333" stroke-width="0.9" fill="none"/><rect x="362.7" y="2031" width="9" height="8" fill="#168016"/></svg>
<div class="abs" style="left:80px;top:2283.3px;width:1651px;height:188.7px;border:2px solid #dde3e8;border-radius:18px;background:#f0f9ff"></div>
<div style="position:absolute;top:2303.52px;font-size:27.4px;line-height:27.4px;font-weight:bold;color:#16213a;white-space:nowrap;left:128.20px;">Henrik Kessler</div>
<div style="position:absolute;top:2339.21px;font-size:22.8px;line-height:22.8px;font-weight:normal;color:#1e293b;white-space:nowrap;left:128.20px;">Research and Formulation Chemist</div>
<div style="position:absolute;top:2309.51px;font-size:22.8px;line-height:22.8px;font-weight:normal;color:#1e293b;white-space:nowrap;left:698.20px;">This purity analysis was conducted using UPLC/MS under standard laboratory</div>
<div style="position:absolute;top:2340.21px;font-size:22.8px;line-height:22.8px;font-weight:normal;color:#1e293b;white-space:nowrap;left:698.20px;">conditions, following validated analytical protocols to ensure accurate and reliable</div>
<div style="position:absolute;top:2370.91px;font-size:22.8px;line-height:22.8px;font-weight:normal;color:#1e293b;white-space:nowrap;left:698.20px;">results. This analysis is intended for informational and research applications.</div>
<svg style="left:160px;top:2380px" width="220" height="85" viewBox="0 0 1624 627"><g fill="none" stroke="#10141b" stroke-width="8.4" stroke-linecap="round" stroke-linejoin="round"><path d="M105 320 C185 268 300 224 360 221 C402 220 372 300 346 380 C322 450 314 494 345 497 C382 494 422 420 446 300 C456 250 466 212 460 205 C448 218 402 350 378 432"/><path d="M105 322 C300 326 600 324 792 327"/><path d="M655 130 C640 185 560 380 485 525"/><path d="M552 338 C568 332 584 314 576 307 C564 303 558 326 570 342 C582 350 594 334 600 316 C600 330 597 346 601 346 C606 330 616 303 624 313 C627 324 621 341 626 346 C630 330 641 303 648 313 C652 324 646 341 652 346 C657 334 662 312 670 306 C676 311 682 315 688 312 C684 328 681 346 692 346 C700 340 708 320 712 308 C708 324 705 346 716 346 C735 332 792 250 825 198 C815 240 770 350 728 405"/><path d="M760 346 C778 326 796 304 802 316 C798 334 772 334 772 338 C786 340 796 350 806 344"/><path d="M1250 95 C1160 92 1000 180 850 302 C842 316 870 326 900 326 C1100 328 1350 326 1520 330"/><path d="M1250 95 C1230 170 1150 380 1075 525"/><path d="M1380 150 C1330 200 1200 290 1130 300 C1120 290 1140 286 1150 300 C1190 340 1260 390 1295 425 C1310 445 1290 450 1280 430 C1262 400 1150 470 1075 525"/><path d="M1288 340 C1304 334 1318 316 1310 310 C1299 306 1294 328 1305 344 C1316 350 1326 336 1334 318 C1344 310 1340 326 1336 336 C1334 348 1346 348 1354 336 C1360 324 1366 312 1370 318 C1374 326 1366 336 1366 344 C1374 350 1384 340 1392 326 C1420 290 1470 220 1482 190 C1478 240 1420 350 1392 395"/><path d="M1428 340 C1444 334 1456 318 1450 312 C1440 308 1434 330 1446 344 C1458 350 1468 336 1474 322 C1480 316 1486 318 1492 318 C1488 330 1486 346 1496 346 C1506 342 1514 334 1522 330"/></g></svg>
<div style="position:absolute;top:2498.61px;font-size:22.8px;line-height:22.8px;font-weight:normal;color:#1e293b;white-space:nowrap;left:79.80px;">Contact at:</div>
<div style="position:absolute;top:2494.72px;font-size:27.4px;line-height:27.4px;font-weight:bold;color:#2797b5;white-space:nowrap;left:214.70px;">contact@horizonanalytical.com</div>
<div style="position:absolute;top:2498.61px;font-size:22.8px;line-height:22.8px;font-weight:normal;color:#1e293b;white-space:nowrap;right:123.50px;text-align:right;">Proudly Owned and Operated in the USA</div>
<svg style="left:1699.1px;top:2497.1px" width="32" height="27" viewBox="0 0 32 27"><rect x="0.00" y="0.00" width="32.00" height="1.66" fill="#d2554b"/><rect x="0.00" y="1.66" width="32.00" height="4.93" fill="#f5b3a6"/><rect x="0.00" y="6.59" width="32.00" height="1.85" fill="#d2554b"/><rect x="0.00" y="8.44" width="32.00" height="2.46" fill="#fdf3f0"/><rect x="0.00" y="10.90" width="32.00" height="4.62" fill="#ec9b8f"/><rect x="0.00" y="15.52" width="32.00" height="2.77" fill="#ffffff"/><rect x="0.00" y="18.29" width="32.00" height="2.16" fill="#d2554b"/><rect x="0.00" y="20.44" width="32.00" height="4.31" fill="#f5b3a6"/><rect x="0.00" y="24.75" width="32.00" height="2.16" fill="#d2554b"/><rect x="0.00" y="0.00" width="17.00" height="15.60" fill="#3a6cc0"/><rect x="2.50" y="2.50" width="2.20" height="2.20" fill="#a9d4fb"/><rect x="7.00" y="2.50" width="2.20" height="2.20" fill="#a9d4fb"/><rect x="11.50" y="2.50" width="2.20" height="2.20" fill="#a9d4fb"/><rect x="4.80" y="7.50" width="2.20" height="2.20" fill="#a9d4fb"/><rect x="9.50" y="7.50" width="2.20" height="2.20" fill="#a9d4fb"/><rect x="2.50" y="12.20" width="2.20" height="2.20" fill="#a9d4fb"/><rect x="7.00" y="12.20" width="2.20" height="2.20" fill="#a9d4fb"/><rect x="11.50" y="12.20" width="2.20" height="2.20" fill="#a9d4fb"/></svg>
</body></html>
